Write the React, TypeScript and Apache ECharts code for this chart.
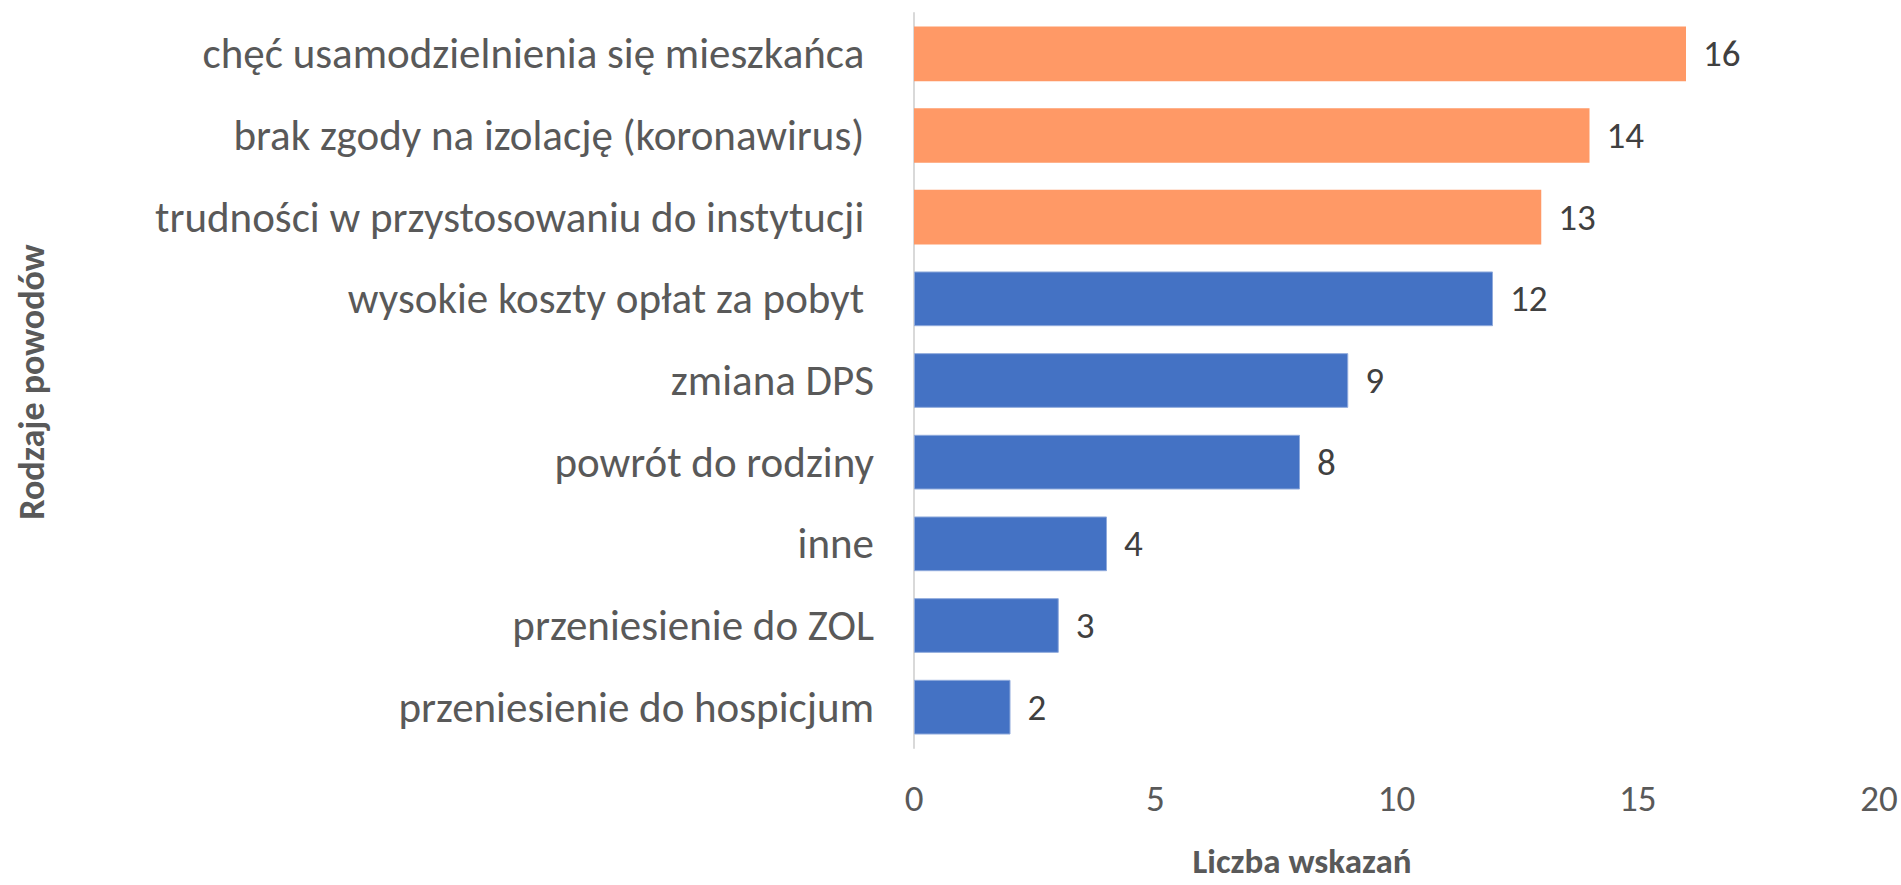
import React, { useEffect, useRef } from "react";
import * as echarts from "echarts";

const categories = [
  "chęć usamodzielnienia się mieszkańca ",
  "brak zgody na izolację (koronawirus) ",
  "trudności w przystosowaniu do instytucji ",
  "wysokie koszty opłat za pobyt ",
  "zmiana DPS",
  "powrót do rodziny",
  "inne",
  "przeniesienie do ZOL",
  "przeniesienie do hospicjum",
];
const values = [16, 14, 13, 12, 9, 8, 4, 3, 2];
const highlighted = [true, true, true, false, false, false, false, false, false];
const xTicks = [0, 5, 10, 15, 20];

const FONT = "Carlito, 'Liberation Sans Narrow', Lato, sans-serif";

export default function App() {
  const ref = useRef<HTMLDivElement>(null);
  useEffect(() => {
    document.body.style.margin = "0";
    if (!ref.current) return;
    const chart = echarts.init(ref.current, null, { renderer: "svg" });
    chart.setOption({
      animation: false,
      backgroundColor: "#ffffff",
      textStyle: { fontFamily: FONT },
      grid: { left: 914, right: 22, top: 13, bottom: 137, containLabel: false },
      xAxis: {
        type: "value",
        min: xTicks[0],
        max: xTicks[xTicks.length - 1],
        interval: 5,
        axisLine: { show: false },
        axisTick: { show: false },
        splitLine: { show: false },
        axisLabel: { color: "#595959", fontSize: 37, margin: 32, fontFamily: FONT },
      },
      yAxis: {
        type: "category",
        inverse: true,
        data: categories,
        axisLine: { show: true, lineStyle: { color: "#d9d9d9", width: 2 } },
        axisTick: { show: false },
        axisLabel: { color: "#595959", fontSize: 43, margin: 40, fontFamily: FONT },
      },
      series: [
        {
          type: "bar",
          barCategoryGap: "33%",
          data: values.map((v, i) => ({
            value: v,
            itemStyle: highlighted[i]
              ? { color: "#ff9966" }
              : { color: "#4472c4", borderColor: "#8faadc", borderWidth: 1 },
          })),
          label: {
            show: true,
            position: "right",
            distance: 17,
            color: "#404040",
            fontSize: 37,
            fontFamily: FONT,
          },
        },
      ],
      graphic: [
        {
          type: "text",
          x: 1302,
          y: 861,
          style: {
            text: "Liczba wskazań",
            fontSize: 35,
            fontWeight: "bold",
            fill: "#595959",
            fontFamily: FONT,
            align: "center",
            verticalAlign: "middle",
          },
        },
        {
          type: "text",
          x: 32,
          y: 382,
          rotation: Math.PI / 2,
          style: {
            text: "Rodzaje powodów",
            fontSize: 36,
            fontWeight: "bold",
            fill: "#595959",
            fontFamily: FONT,
            align: "center",
            verticalAlign: "middle",
          },
        },
      ],
    });
    return () => chart.dispose();
  }, []);
  return <div ref={ref} style={{ width: 1901, height: 885 }} />;
}
